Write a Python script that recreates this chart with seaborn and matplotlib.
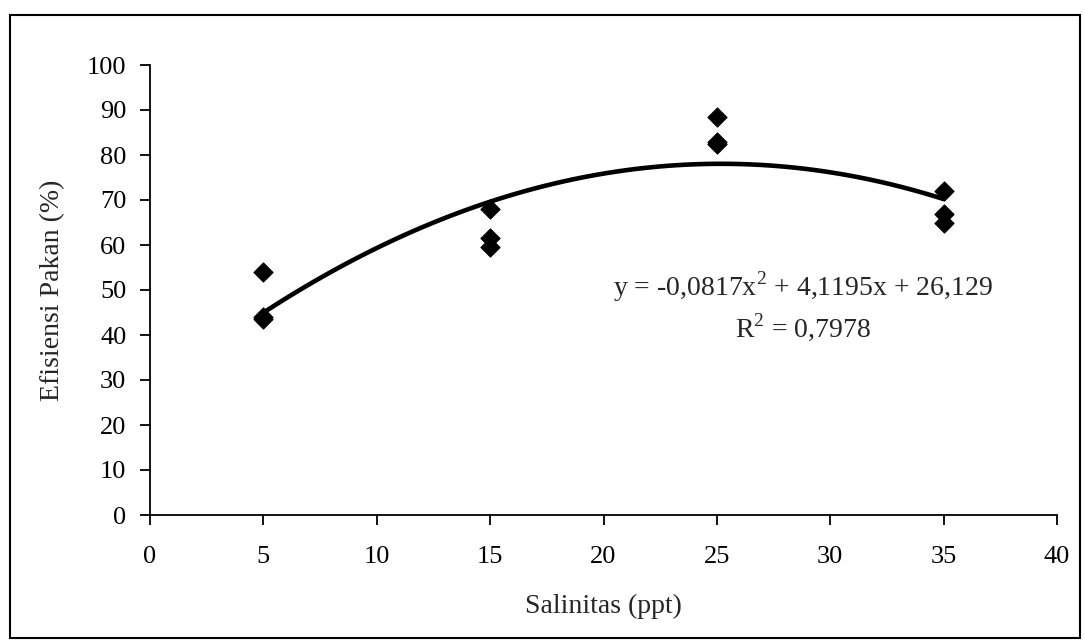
import matplotlib
matplotlib.use("Agg")
import matplotlib.pyplot as plt
import seaborn as sns
import pandas as pd
from matplotlib.patches import Rectangle

salinity = [5, 5, 5, 15, 15, 15, 25, 25, 25, 35, 35, 35]
efficiency = [54.0, 44.0, 43.5, 68.0, 61.5, 59.5, 88.5, 83.0, 82.5, 72.0, 67.0, 65.0]
x_ticks = [0, 5, 10, 15, 20, 25, 30, 35, 40]
y_ticks = [0, 10, 20, 30, 40, 50, 60, 70, 80, 90, 100]
equation_text = "y = -0,0817x$^2$ + 4,1195x + 26,129"
r2_text = "R$^2$ = 0,7978"

df = pd.DataFrame({"Salinitas": salinity, "Efisiensi": efficiency})

sns.set_style("ticks")
plt.rcParams["font.family"] = ["Liberation Serif", "DejaVu Serif"]
plt.rcParams["mathtext.fontset"] = "custom"
plt.rcParams["mathtext.rm"] = "Liberation Serif"

fig = plt.figure(figsize=(10.85, 6.42), dpi=100)
ax = fig.add_axes([150/1085, 1 - 515/642, 907/1085, 450/642])

sns.regplot(data=df, x="Salinitas", y="Efisiensi", order=2, ci=None,
            scatter=False, ax=ax, line_kws=dict(color="black", lw=3.3))
sns.scatterplot(data=df, x="Salinitas", y="Efisiensi", marker="D", s=95,
                color="black", edgecolor="black", ax=ax, zorder=3, clip_on=False)

ax.set_xlim(0, 40)
ax.set_ylim(0, 100)
ax.set_xticks(x_ticks)
ax.set_yticks(y_ticks)
ax.tick_params(axis="both", labelsize=19, direction="out", length=7, width=1.3, colors="black")
ax.tick_params(axis="x", pad=15)
ax.tick_params(axis="y", pad=10)
for s in ["top", "right"]:
    ax.spines[s].set_visible(False)
for s in ["left", "bottom"]:
    ax.spines[s].set_linewidth(1.3)
    ax.spines[s].set_color("black")

ax.set_xlabel("Salinitas (ppt)", fontsize=20, labelpad=19)
ax.set_ylabel("Efisiensi Pakan (%)", fontsize=20, labelpad=16)

ax.text(28.8, 50.8, equation_text, fontsize=20, ha="center", va="center")
ax.text(28.8, 41.8, r2_text, fontsize=20, ha="center", va="center")

fig.patches.append(Rectangle((10/1085, 4/642), 1070/1085, 623/642, transform=fig.transFigure,
                             fill=False, edgecolor="black", lw=1.5))

fig.savefig("out.png", dpi=100)
